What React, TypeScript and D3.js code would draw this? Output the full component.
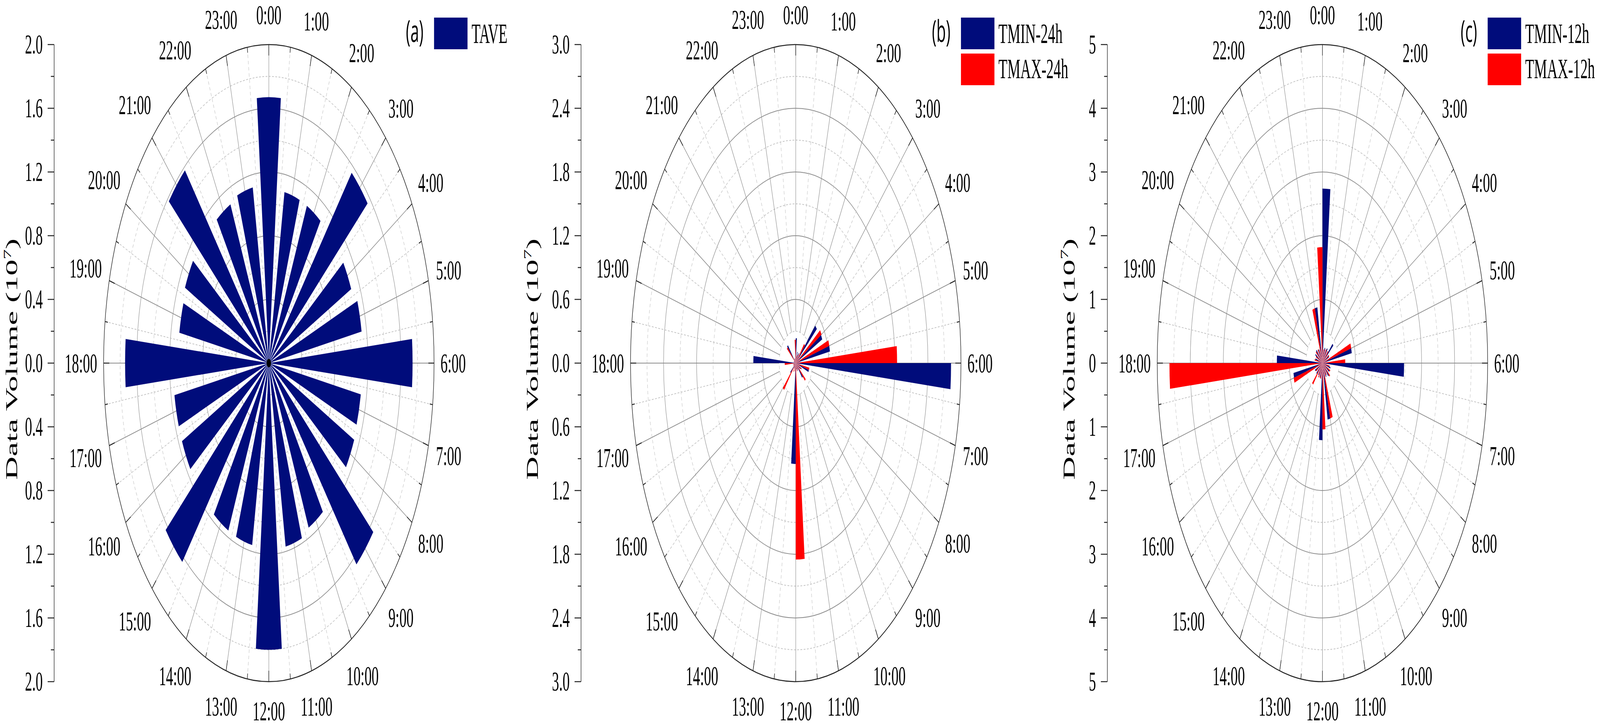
import React, { useEffect, useRef } from 'react';
import * as d3 from 'd3';

// hour categories around the dial (0:00 at top, clockwise)
const hourLabels = [
  '0:00', '1:00', '2:00', '3:00', '4:00', '5:00', '6:00', '7:00',
  '8:00', '9:00', '10:00', '11:00', '12:00', '13:00', '14:00', '15:00',
  '16:00', '17:00', '18:00', '19:00', '20:00', '21:00', '22:00', '23:00',
];

// data volume (10^7) per hour
const taveValues = [1.67, 1.09, 1.09, 1.56, 1.10, 1.14, 1.74, 1.13, 1.14, 1.65, 1.14, 1.17,
  1.80, 1.16, 1.16, 1.63, 1.16, 1.16, 1.74, 1.10, 1.12, 1.58, 1.10, 1.12];

const tmin24Values = [0.235, 0.11, 0.11, 0.50, 0.53, 0.63, 2.82, 0.245, 0.10, 0.18, 0.08, 0.06,
  0.95, 0.05, 0.06, 0.13, 0.04, 0.04, 0.77, 0.04, 0.03, 0.22, 0.05, 0.04];
const tmax24Values = [0.22, 0.07, 0.09, 0.235, 0.54, 0.63, 1.84, 0.25, 0.12, 0.235, 0.07, 0.08,
  1.85, 0.08, 0.09, 0.33, 0.05, 0.05, 0.20, 0.03, 0.04, 0.21, 0.04, 0.05];

const tmin12Values = [2.74, 0.25, 0.27, 0.43, 0.22, 0.90, 2.47, 0.25, 0.24, 0.27, 0.24, 0.90,
  1.21, 0.24, 0.22, 0.24, 0.25, 0.89, 1.38, 0.22, 0.25, 0.27, 0.24, 0.89];
const tmax12Values = [1.82, 0.22, 0.24, 0.25, 0.23, 0.90, 0.69, 0.22, 0.26, 0.30, 0.22, 0.90,
  1.04, 0.25, 0.25, 0.44, 0.23, 0.90, 4.63, 0.24, 0.22, 0.26, 0.25, 0.89];

// radial axis ticks
const ticksA = [0, 0.4, 0.8, 1.2, 1.6, 2.0];
const ticksB = [0, 0.6, 1.2, 1.8, 2.4, 3.0];
const ticksC = [0, 1, 2, 3, 4, 5];

const NAVY = '#000c7b';
const RED = '#ff0000';
const SERIF = "'Liberation Serif', 'Times New Roman', serif";

const W = 7892;
const H = 1860;

interface Series {
  name: string;
  values: number[];
  color: string;
}

interface PanelProps {
  cx: number;
  axisX: number;
  titleX: number;
  tag: string;
  ticks: number[];
  format: string;
  series: Series[];
  centerDot?: boolean;
}

const R = 815;
const CY = 929;

const PolarPanel: React.FC<PanelProps> = ({ cx, axisX, titleX, tag, ticks, format, series, centerDot }) => {
  const ref = useRef<SVGGElement | null>(null);

  useEffect(() => {
    if (!ref.current) return;
    const root = d3.select(ref.current);
    root.selectAll('*').remove();

    const max = ticks[ticks.length - 1];
    const step = ticks[1] - ticks[0];
    const r = d3.scaleLinear().domain([0, max]).range([0, R]);
    const fmt = d3.format(format);
    const toRad = (deg: number) => (deg * Math.PI) / 180;
    const hourAngle = d3.scaleLinear().domain([0, 24]).range([0, 2 * Math.PI]);

    const g = root.append('g').attr('transform', `translate(${cx},${CY})`);

    // minor circles (dashed)
    const minor = d3.range(step / 2, max, step);
    g.selectAll('.minor-ring')
      .data(minor)
      .enter()
      .append('circle')
      .attr('r', d => r(d))
      .attr('fill', 'none')
      .attr('stroke', '#c4c4c4')
      .attr('stroke-width', 2)
      .attr('stroke-dasharray', '9,7');

    // major circles
    g.selectAll('.major-ring')
      .data(ticks.slice(1, -1))
      .enter()
      .append('circle')
      .attr('r', d => r(d))
      .attr('fill', 'none')
      .attr('stroke', '#8c8c8c')
      .attr('stroke-width', 2);

    // half-hour spokes (dashed)
    g.selectAll('.minor-spoke')
      .data(hourLabels.map((_, i) => i + 0.5))
      .enter()
      .append('line')
      .attr('x1', d => Math.sin(hourAngle(d)) * r(step))
      .attr('y1', d => -Math.cos(hourAngle(d)) * r(step))
      .attr('x2', d => Math.sin(hourAngle(d)) * R)
      .attr('y2', d => -Math.cos(hourAngle(d)) * R)
      .attr('stroke', '#c4c4c4')
      .attr('stroke-width', 2)
      .attr('stroke-dasharray', '9,7');

    // hour spokes
    g.selectAll('.major-spoke')
      .data(hourLabels.map((_, i) => i))
      .enter()
      .append('line')
      .attr('x1', d => Math.sin(hourAngle(d)) * r(step / 2))
      .attr('y1', d => -Math.cos(hourAngle(d)) * r(step / 2))
      .attr('x2', d => Math.sin(hourAngle(d)) * R)
      .attr('y2', d => -Math.cos(hourAngle(d)) * R)
      .attr('stroke', '#8c8c8c')
      .attr('stroke-width', 2);

    // bars: one 10-degree group per hour, split between the series
    const groupWidth = toRad(10);
    const n = series.length;
    const barWidth = groupWidth / n;
    const arc = d3.arc<{ start: number; end: number; value: number }>()
      .innerRadius(0)
      .outerRadius(d => r(d.value))
      .startAngle(d => d.start)
      .endAngle(d => d.end);

    series.forEach((s, i) => {
      const bars = s.values.map((v, h) => {
        const start = hourAngle(h) - groupWidth / 2 + (n - 1 - i) * barWidth;
        return { start, end: start + barWidth, value: v };
      });
      g.append('g')
        .selectAll('path')
        .data(bars)
        .enter()
        .append('path')
        .attr('d', d => arc(d) || '')
        .attr('fill', s.color)
        .append('title')
        .text((d, h) => `${hourLabels[h]} ${s.name}: ${d.value}`);
    });

    if (centerDot) {
      g.append('circle').attr('r', 11).attr('fill', '#000');
    }

    // outer circle and its ticks
    g.append('circle')
      .attr('r', R)
      .attr('fill', 'none')
      .attr('stroke', '#222')
      .attr('stroke-width', 2.5);

    g.selectAll('.outer-tick')
      .data(d3.range(0, 24, 0.5))
      .enter()
      .append('line')
      .attr('x1', d => Math.sin(hourAngle(d)) * R)
      .attr('y1', d => -Math.cos(hourAngle(d)) * R)
      .attr('x2', d => Math.sin(hourAngle(d)) * (R - (d % 1 === 0 ? 28 : 14)))
      .attr('y2', d => -Math.cos(hourAngle(d)) * (R - (d % 1 === 0 ? 28 : 14)))
      .attr('stroke', '#222')
      .attr('stroke-width', 2.5);

    // hour labels
    const fs = 70;
    const capH = 47;
    const textW = (s: string) => s.split('').reduce((acc, ch) => acc + (ch === ':' ? 0.278 : 0.5), 0) * fs;
    const labelDist = (d: string, i: number) => {
      const a = hourAngle(i);
      const s = Math.abs(Math.sin(a));
      const c = Math.abs(Math.cos(a));
      return R + 32 + 20 * c + s * textW(d) / 2 + c * capH / 2;
    };
    g.selectAll('.hour-label')
      .data(hourLabels)
      .enter()
      .append('text')
      .attr('x', (d, i) => Math.sin(hourAngle(i)) * labelDist(d, i))
      .attr('y', (d, i) => -Math.cos(hourAngle(i)) * labelDist(d, i) + capH / 2)
      .attr('text-anchor', 'middle')
      .attr('font-family', SERIF)
      .attr('font-size', fs)
      .attr('fill', '#000')
      .text(d => d);

    // radial axis on the left
    const axis = root.append('g');
    axis.append('line')
      .attr('x1', axisX).attr('x2', axisX)
      .attr('y1', CY - R).attr('y2', CY + R)
      .attr('stroke', '#222')
      .attr('stroke-width', 2.5);

    const majorPos = ticks.flatMap(t => (t === 0 ? [{ t, y: CY }] : [{ t, y: CY - r(t) }, { t, y: CY + r(t) }]));
    const minorPos = minor.flatMap(t => [CY - r(t), CY + r(t)]);

    axis.selectAll('.major-tick')
      .data(majorPos)
      .enter()
      .append('line')
      .attr('x1', axisX - 32).attr('x2', axisX)
      .attr('y1', d => d.y).attr('y2', d => d.y)
      .attr('stroke', '#222')
      .attr('stroke-width', 2.5);

    axis.selectAll('.minor-tick')
      .data(minorPos)
      .enter()
      .append('line')
      .attr('x1', axisX - 16).attr('x2', axisX)
      .attr('y1', d => d).attr('y2', d => d)
      .attr('stroke', '#222')
      .attr('stroke-width', 2.5);

    axis.selectAll('.tick-label')
      .data(majorPos)
      .enter()
      .append('text')
      .attr('x', axisX - 56)
      .attr('y', d => d.y + capH / 2)
      .attr('text-anchor', 'end')
      .attr('font-family', SERIF)
      .attr('font-size', fs)
      .attr('fill', '#000')
      .text(d => fmt(d.t));

    // axis title
    const title = root.append('text')
      .attr('transform', `translate(${titleX},${CY - 10}) rotate(-90)`)
      .attr('text-anchor', 'middle')
      .attr('font-family', SERIF)
      .attr('font-size', 83)
      .attr('fill', '#000');
    title.append('tspan').text('Data Volume (10');
    title.append('tspan').attr('dy', -32).attr('font-size', 52).text('7');
    title.append('tspan').attr('dy', 32).text(')');

    // panel tag and legend
    root.append('text')
      .attr('x', cx + R - 52)
      .attr('y', 107)
      .attr('text-anchor', 'end')
      .attr('font-family', "'Open Sans', 'Noto Sans', sans-serif")
      .attr('font-size', 76)
      .attr('fill', '#000')
      .text(tag);

    const legend = root.append('g');
    series.forEach((s, i) => {
      legend.append('rect')
        .attr('x', cx + R)
        .attr('y', 45 + i * 92)
        .attr('width', 165)
        .attr('height', 81)
        .attr('fill', s.color);
      legend.append('text')
        .attr('x', cx + R + 185)
        .attr('y', 110 + i * 90)
        .attr('font-family', SERIF)
        .attr('font-size', 72)
        .attr('fill', '#000')
        .text(s.name);
    });
  }, [cx, axisX, titleX, tag, ticks, format, series, centerDot]);

  return <g ref={ref} />;
};

const seriesA: Series[] = [{ name: 'TAVE', values: taveValues, color: NAVY }];
const seriesB: Series[] = [
  { name: 'TMIN-24h', values: tmin24Values, color: NAVY },
  { name: 'TMAX-24h', values: tmax24Values, color: RED },
];
const seriesC: Series[] = [
  { name: 'TMIN-12h', values: tmin12Values, color: NAVY },
  { name: 'TMAX-12h', values: tmax12Values, color: RED },
];

const App: React.FC = () => {
  // the drawing is laid out on a 7892x1860 canvas and stretched to whatever the window is
  return (
    <div style={{ position: 'fixed', left: 0, top: 0, width: '100vw', height: '100vh', overflow: 'hidden', background: '#fff' }}>
      <svg
        viewBox={`0 0 ${W} ${H}`}
        preserveAspectRatio="none"
        style={{ display: 'block', width: '100%', height: '100%' }}
      >
        <PolarPanel cx={1326} axisX={267} titleX={85} tag="(a)" ticks={ticksA} format=".1f" series={seriesA} centerDot />
        <PolarPanel cx={3925} axisX={2866} titleX={2653} tag="(b)" ticks={ticksB} format=".1f" series={seriesB} />
        <PolarPanel cx={6523} axisX={5462} titleX={5300} tag="(c)" ticks={ticksC} format="d" series={seriesC} />
      </svg>
    </div>
  );
};

export default App;
